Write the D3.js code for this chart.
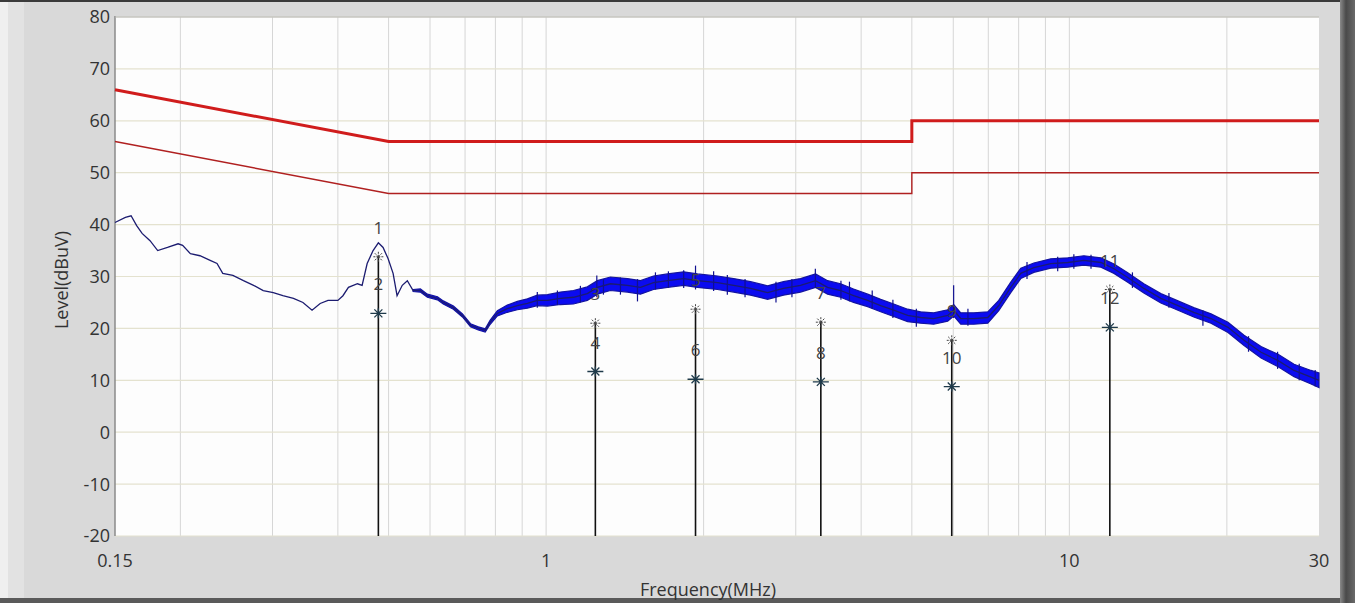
<!DOCTYPE html>
<html><head><meta charset="utf-8">
<script src="https://cdn.jsdelivr.net/npm/d3@7"></script>
<style>body{margin:0;background:#d9d9d9;overflow:hidden}svg{display:block}</style>
</head><body>
<svg id="c" width="1355" height="603"></svg>
<script>
// ---- data ----
const traceFreqs = [0.150,0.157,0.161,0.165,0.169,0.175,0.181,0.189,0.198,0.202,0.209,0.218,0.228,0.235,0.241,0.252,0.264,0.276,0.288,0.301,0.314,0.329,0.343,0.357,0.370,0.383,0.400,0.409,0.419,0.436,0.445,0.455,0.467,0.478,0.488,0.499,0.510,0.519,0.531,0.543,0.557,0.575,0.593,0.620,0.636,0.665,0.692,0.717,0.742,0.765,0.782,0.807,0.843,0.881,0.921,0.962,1.006,1.065,1.128,1.199,1.253,1.327,1.430,1.515,1.604,1.706,1.832,1.947,2.127,2.282,2.459,2.650,2.842,3.064,3.273,3.451,3.655,3.869,4.116,4.359,4.616,4.909,5.198,5.505,5.855,6.012,6.201,6.566,6.984,7.330,7.728,8.076,8.553,9.216,9.933,10.66,11.49,12.17,12.93,13.88,14.96,16.13,17.29,18.65,20.10,21.57,23.25,25.06,26.88,28.97,30.0];
const traceLevels = [40.4,41.4,41.7,39.8,38.3,36.9,35.0,35.6,36.3,36.0,34.4,34.0,33.1,32.5,30.6,30.2,29.2,28.3,27.3,26.9,26.3,25.8,25.0,23.5,24.8,25.4,25.4,26.3,27.9,28.6,28.3,32.5,35.0,36.5,35.6,33.4,30.6,26.3,28.3,29.2,27.3,27.3,26.3,25.8,25.0,24.0,22.5,20.6,20.0,19.6,21.2,22.9,23.8,24.4,24.8,25.4,25.4,25.8,26.0,26.7,27.9,28.6,28.3,27.9,28.8,29.2,29.6,29.2,28.8,28.3,27.7,26.9,27.7,28.3,29.2,27.9,27.3,26.3,25.4,24.4,23.5,22.5,22.1,21.9,22.5,23.5,21.9,21.9,22.1,24.4,27.9,30.6,31.7,32.5,32.7,33.1,32.7,31.5,29.8,27.7,25.8,24.4,23.1,21.9,20.2,17.7,15.4,13.8,11.9,10.6,10.0];
// half-width of the noisy band (dB)
const traceSpread = [0,0,0,0,0,0,0,0,0,0,0,0,0,0,0,0,0,0,0,0,0,0,0,0,0,0,0,0,0,0,0,0,0,0,0,0,0,0,0,0,0.2,0.3,0.3,0.3,0.3,0.3,0.3,0.3,0.3,0.3,0.4,0.5,0.7,0.8,0.9,1.0,1.1,1.2,1.3,1.3,1.3,1.3,1.3,1.3,1.3,1.3,1.3,1.3,1.3,1.3,1.3,1.3,1.3,1.3,1.3,1.3,1.3,1.3,1.2,1.2,1.2,1.2,1.1,1.1,1.1,1.1,1.1,1.1,1.1,1.0,1.0,1.0,0.9,0.9,0.9,0.9,0.9,0.9,0.9,0.9,0.9,0.9,0.9,0.9,1.0,1.0,1.1,1.2,1.2,1.3,1.4];
// visible noise spikes in the trace: frequency, top and bottom level
const spikeFreqs   = [0.962,1.051,1.163,1.25,1.287,1.387,1.495,1.618,1.713,1.832,1.93,2.09,2.22,2.40,2.75,2.95,3.27,3.66,3.80,4.20,4.60,5.10,6.01,6.40,8.30,9.50,10.2,11.0,13.2,15.5,18.0,22.0,25.0,27.5,29.5];
const spikeTops    = [27.0,27.3,28.2,30.2,29.5,29.8,29.5,30.8,31.0,31.2,32.1,31.0,30.3,29.5,29.0,29.5,31.5,29.2,29.0,27.3,25.5,23.8,28.3,23.8,32.8,33.8,34.3,34.2,30.8,26.8,23.5,18.5,15.5,13.2,12.0];
const spikeBottoms = [24.0,24.5,25.0,26.0,26.5,26.5,25.2,27.5,27.8,27.8,27.5,27.2,26.5,26.0,25.0,26.0,27.8,25.5,25.2,23.8,22.0,20.3,22.0,20.5,29.5,31.0,31.5,31.5,27.8,24.0,20.5,15.5,12.2,10.0,8.8];

const limitFreqs = [0.15, 0.5, 5, 5, 30];
const qpLimit    = [66, 56, 56, 60, 60];
const avLimit    = [56, 46, 46, 50, 50];

const markerFreqs = [0.478, 1.242, 1.93, 3.35, 5.96, 11.95];
const markerQP    = [33.8, 21.0, 23.7, 21.2, 17.7, 27.5];
const markerAV    = [22.9, 11.7, 10.2, 9.7, 8.8, 20.2];

const yTicks = [80,70,60,50,40,30,20,10,0,-10,-20];
const xTickLabels = [0.15, 1, 10, 30];
const xGridFreqs = [0.2,0.3,0.4,0.5,0.6,0.7,0.8,0.9,1,2,3,4,5,6,7,8,9,10,20];

// ---- layout ----
const L = 115, R = 1319, T = 17, B = 536;
const svg = d3.select('#c');
const x = d3.scaleLog().domain([0.15, 30]).range([L, R]);
const y = d3.scaleLinear().domain([-20, 80]).range([B, T]);
const font = '"Open Sans", "Noto Sans", sans-serif';

// window frame
svg.append('rect').attr('x',0).attr('y',0).attr('width',1355).attr('height',603).attr('fill','#d9d9d9');
svg.append('rect').attr('x',0).attr('y',0).attr('width',8).attr('height',603).attr('fill','#efefef');
svg.append('rect').attr('x',8).attr('y',0).attr('width',16).attr('height',603).attr('fill','#e2e2e2');
svg.append('rect').attr('x',0).attr('y',0).attr('width',1355).attr('height',2).attr('fill','#3a3a3a');
svg.append('rect').attr('x',0).attr('y',598).attr('width',1355).attr('height',5).attr('fill','#5a5a5a');
const grad = svg.append('defs').append('linearGradient').attr('id','rg').attr('x1','0').attr('x2','1');
grad.append('stop').attr('offset','0').attr('stop-color','#8a8a8a');
grad.append('stop').attr('offset','0.4').attr('stop-color','#4a4a4a');
grad.append('stop').attr('offset','1').attr('stop-color','#6a6a6a');
svg.append('rect').attr('x',1340).attr('y',0).attr('width',15).attr('height',603).attr('fill','url(#rg)');

// plot area
svg.append('rect').attr('x',L).attr('y',T).attr('width',R-L).attr('height',B-T).attr('fill','#fdfdfd');

// grid
svg.append('g').selectAll('line').data(xGridFreqs).join('line')
  .attr('x1',d=>x(d)).attr('x2',d=>x(d)).attr('y1',T).attr('y2',B)
  .attr('stroke','#d6d6d6').attr('stroke-width',1);
svg.append('g').selectAll('line').data(yTicks).join('line')
  .attr('x1',L).attr('x2',R).attr('y1',d=>y(d)).attr('y2',d=>y(d))
  .attr('stroke','#e4e2cf').attr('stroke-width',1.2);

// axes lines
svg.append('line').attr('x1',L).attr('x2',L).attr('y1',T-1).attr('y2',B).attr('stroke','#8a8a8a').attr('stroke-width',1.5);
svg.append('line').attr('x1',L).attr('x2',R).attr('y1',T).attr('y2',T).attr('stroke','#b8b8b8').attr('stroke-width',1);

// y tick labels
svg.append('g').selectAll('text').data(yTicks).join('text')
  .attr('x',110).attr('y',d=>y(d)).attr('dy','0.36em').attr('text-anchor','end')
  .attr('font-family',font).attr('font-size',18).attr('fill','#333').text(d=>d);
// x tick labels
svg.append('g').selectAll('text').data(xTickLabels).join('text')
  .attr('x',d=>x(d)).attr('y',561).attr('dy','0.36em').attr('text-anchor','middle')
  .attr('font-family',font).attr('font-size',18).attr('fill','#333').text(d=>d);
// axis titles
svg.append('text').attr('x',708).attr('y',590).attr('dy','0.36em').attr('text-anchor','middle')
  .attr('font-family',font).attr('font-size',18).attr('fill','#333').text('Frequency(MHz)');
svg.append('text').attr('transform','translate(62,280) rotate(-90)').attr('dy','0.36em').attr('text-anchor','middle')
  .attr('font-family',font).attr('font-size',18).attr('fill','#333').text('Level(dBuV)');

// limit lines
const limLine = d3.line().x(d=>x(d[0])).y(d=>y(d[1]));
svg.append('path').datum(limitFreqs.map((f,i)=>[f,avLimit[i]])).attr('d',limLine)
  .attr('fill','none').attr('stroke','#b02020').attr('stroke-width',1.4);
svg.append('path').datum(limitFreqs.map((f,i)=>[f,qpLimit[i]])).attr('d',limLine)
  .attr('fill','none').attr('stroke','#d01c1c').attr('stroke-width',3);

// trace
const pts = traceFreqs.map((f,i)=>({f, v: traceLevels[i], s: traceSpread[i]}));
const band = pts.filter(d=>d.f >= 0.55);
const area = d3.area().x(d=>x(d.f)).y0(d=>y(d.v - d.s)).y1(d=>y(d.v + d.s));
svg.append('path').datum(band).attr('d',area).attr('fill','#0b0bf0')
  .attr('stroke','#1414a0').attr('stroke-width',1.2);
svg.append('path').datum(pts).attr('d',d3.line().x(d=>x(d.f)).y(d=>y(d.v)))
  .attr('fill','none').attr('stroke','#1c1c70').attr('stroke-width',1.3);
svg.append('g').selectAll('line').data(spikeFreqs).join('line')
  .attr('x1',d=>x(d)).attr('x2',d=>x(d))
  .attr('y1',(d,i)=>y(spikeTops[i])).attr('y2',(d,i)=>y(spikeBottoms[i]))
  .attr('stroke','#101090').attr('stroke-width',1.2);

// markers
const mg = svg.append('g');
markerFreqs.forEach((f,i)=>{
  const mx = x(f);
  mg.append('line').attr('x1',mx).attr('x2',mx).attr('y1',y(markerQP[i])).attr('y2',B)
    .attr('stroke','#111').attr('stroke-width',1.6);
  const qy = y(markerQP[i]);
  const arms = [];
  for (let k=0;k<8;k++){ const a=k*Math.PI/4; arms.push(`M${mx},${qy}L${mx+6*Math.cos(a)},${qy+6*Math.sin(a)}`); }
  mg.append('path').attr('d',arms.join('')).attr('stroke','#444').attr('stroke-width',1).attr('stroke-dasharray','2,1');
  const ay = y(markerAV[i]);
  let p = `M${mx-8},${ay}L${mx+8},${ay}M${mx},${ay-5}L${mx},${ay+5}`;
  p += `M${mx-4},${ay-4}L${mx+4},${ay+4}M${mx-4},${ay+4}L${mx+4},${ay-4}`;
  mg.append('path').attr('d',p).attr('stroke','#1f3a4a').attr('stroke-width',1.3);
  mg.append('text').attr('x',mx).attr('y',qy-29).attr('dy','0.36em').attr('text-anchor','middle')
    .attr('font-family',font).attr('font-size',17).attr('fill','#444').text(2*i+1);
  mg.append('text').attr('x',mx).attr('y',ay-29).attr('dy','0.36em').attr('text-anchor','middle')
    .attr('font-family',font).attr('font-size',17).attr('fill','#444').text(2*i+2);
});
</script>
</body></html>
